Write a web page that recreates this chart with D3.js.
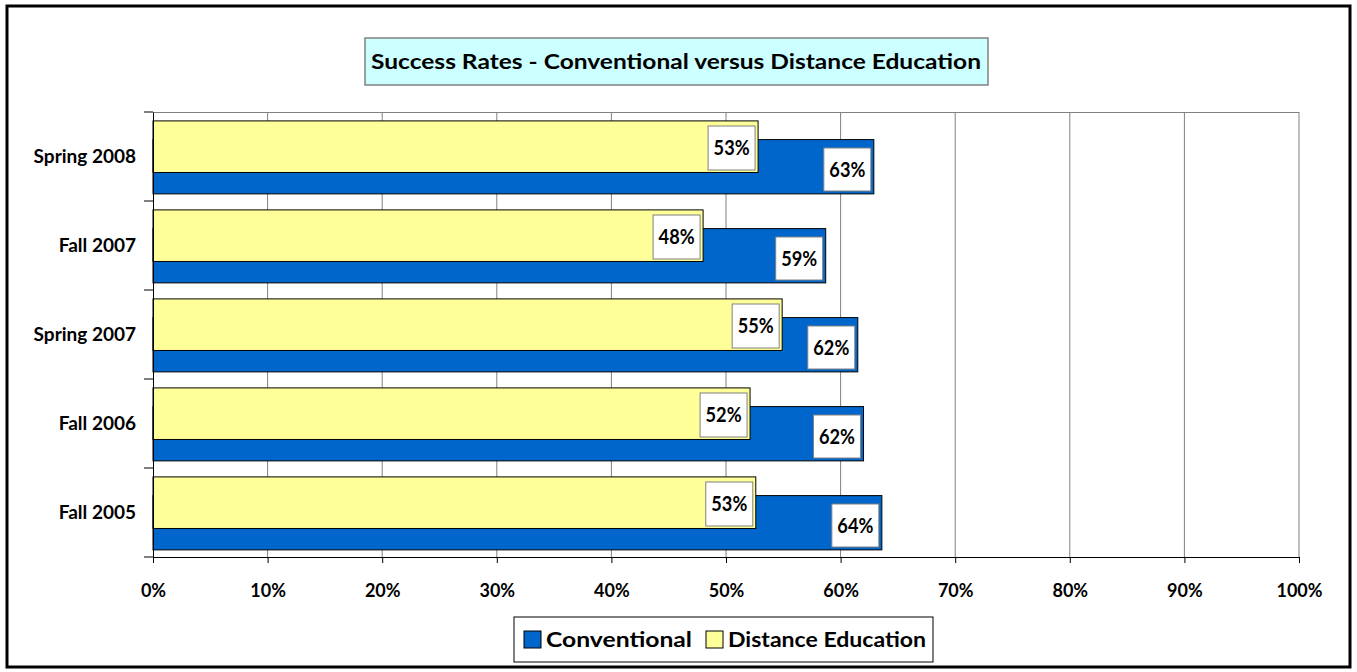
<!DOCTYPE html>
<html>
<head>
<meta charset="utf-8">
<script src="https://cdn.jsdelivr.net/npm/d3@7"></script>
<style>
  body { margin: 0; background: #fff; }
  text { font-family: Lato, "Open Sans", sans-serif; font-weight: bold; }
</style>
</head>
<body>
<script>
// data
var terms = ["Spring 2008", "Fall 2007", "Spring 2007", "Fall 2006", "Fall 2005"];
var conventional = [63, 59, 62, 62, 64];
var conventionalExact = [62.9, 58.7, 61.5, 62.0, 63.6];
var distance = [53, 48, 55, 52, 53];
var distanceExact = [52.8, 48.0, 54.9, 52.1, 52.6];
var xTicks = [0, 10, 20, 30, 40, 50, 60, 70, 80, 90, 100];

var W = 1357, H = 672;
var margin = {top: 112, right: 58, bottom: 115, left: 153},
    width = 1299 - margin.left,
    height = 557 - margin.top;

var svg = d3.select("body")
  .append("svg")
    .attr("width", W)
    .attr("height", H);

// outer frame
svg.append("rect")
  .attr("x", 7).attr("y", 6)
  .attr("width", 1343).attr("height", 661)
  .attr("fill", "#fff")
  .attr("stroke", "#000")
  .attr("stroke-width", 3);

var g = svg.append("g")
  .attr("transform", "translate(" + margin.left + "," + margin.top + ")");

var x = d3.scaleLinear()
  .domain([0, 100])
  .range([0, width]);

var y = d3.scaleBand()
  .domain(terms)
  .range([0, height]);

// grid
g.append("g")
  .selectAll("line")
  .data(xTicks.slice(1))
  .enter()
  .append("line")
    .attr("x1", d => x(d)).attr("x2", d => x(d))
    .attr("y1", 0).attr("y2", height)
    .attr("stroke", "#808080")
    .attr("stroke-width", 1);

g.append("line")
  .attr("x1", 0).attr("x2", width)
  .attr("y1", 0.5).attr("y2", 0.5)
  .attr("stroke", "#808080");

var bh = y.bandwidth() * 0.61;

// conventional bars (below)
g.selectAll(".conv")
  .data(terms)
  .enter()
  .append("rect")
    .attr("class", "conv")
    .attr("x", 0)
    .attr("y", d => y(d) + y.bandwidth() * 0.31)
    .attr("width", (d, i) => x(conventionalExact[i]))
    .attr("height", bh)
    .attr("fill", "#0066CC")
    .attr("stroke", "#000")
    .attr("stroke-width", 1);

// distance bars (on top)
g.selectAll(".dist")
  .data(terms)
  .enter()
  .append("rect")
    .attr("class", "dist")
    .attr("x", 0)
    .attr("y", d => y(d) + y.bandwidth() * 0.1)
    .attr("width", (d, i) => x(distanceExact[i]))
    .attr("height", bh * 0.95)
    .attr("fill", "#FFFF99")
    .attr("stroke", "#000")
    .attr("stroke-width", 1);

// value labels
function addLabels(vals, exact, top, h) {
  var lab = g.append("g").selectAll("g")
    .data(terms)
    .enter()
    .append("g")
      .attr("transform", (d, i) => "translate(" + (x(exact[i]) - 50) + "," + (y(d) + top) + ")");
  lab.append("rect")
    .attr("width", 47).attr("height", h)
    .attr("fill", "#fff")
    .attr("stroke", "#808080");
  lab.append("text")
    .attr("x", 23.5).attr("y", h / 2 + 7)
    .attr("text-anchor", "middle")
    .attr("font-size", 20)
    .attr("textLength", 36)
    .attr("lengthAdjust", "spacingAndGlyphs")
    .text((d, i) => vals[i] + "%");
}
addLabels(distance, distanceExact, 14, 44);
addLabels(conventional, conventionalExact, 36, 43);

// y axis
var yAxis = g.append("g")
  .call(d3.axisLeft(y).tickSize(0).tickPadding(17));
yAxis.select(".domain").attr("stroke", "#000");
yAxis.selectAll("text").attr("font-size", 19).attr("fill", "#000");
g.append("g").selectAll("line")
  .data(d3.range(terms.length + 1))
  .enter()
  .append("line")
    .attr("x1", -9).attr("x2", 0)
    .attr("y1", i => i * y.step()).attr("y2", i => i * y.step())
    .attr("stroke", "#000");

// x axis
var xAxis = g.append("g")
  .attr("transform", "translate(0," + height + ")")
  .call(d3.axisBottom(x).tickValues(xTicks).tickSize(6).tickPadding(21)
    .tickFormat(d => d + "%"));
xAxis.select(".domain").attr("stroke", "#000");
xAxis.selectAll("line").attr("stroke", "#000");
xAxis.selectAll("text").attr("font-size", 18).attr("fill", "#000");

// title
svg.append("rect")
  .attr("x", 365).attr("y", 38)
  .attr("width", 623).attr("height", 47)
  .attr("fill", "#CCFFFF")
  .attr("stroke", "#808080")
  .attr("stroke-width", 1.5);
svg.append("text")
  .attr("x", 676).attr("y", 69)
  .attr("text-anchor", "middle")
  .attr("font-size", 21)
  .attr("textLength", 610)
  .attr("lengthAdjust", "spacingAndGlyphs")
  .text("Success Rates - Conventional versus Distance Education");

// legend
svg.append("rect")
  .attr("x", 514).attr("y", 617)
  .attr("width", 419).attr("height", 45)
  .attr("fill", "#fff")
  .attr("stroke", "#000");
var legendItems = [
  {name: "Conventional", color: "#0066CC", x: 524, len: 146},
  {name: "Distance Education", color: "#FFFF99", x: 706, len: 198}
];
var leg = svg.selectAll(".leg")
  .data(legendItems)
  .enter()
  .append("g")
    .attr("transform", d => "translate(" + d.x + ",631)");
leg.append("rect")
  .attr("width", 17).attr("height", 17)
  .attr("fill", d => d.color)
  .attr("stroke", "#000");
leg.append("text")
  .attr("x", 22).attr("y", 16)
  .attr("font-size", 21)
  .attr("textLength", d => d.len)
  .attr("lengthAdjust", "spacingAndGlyphs")
  .text(d => d.name);
</script>
</body>
</html>
